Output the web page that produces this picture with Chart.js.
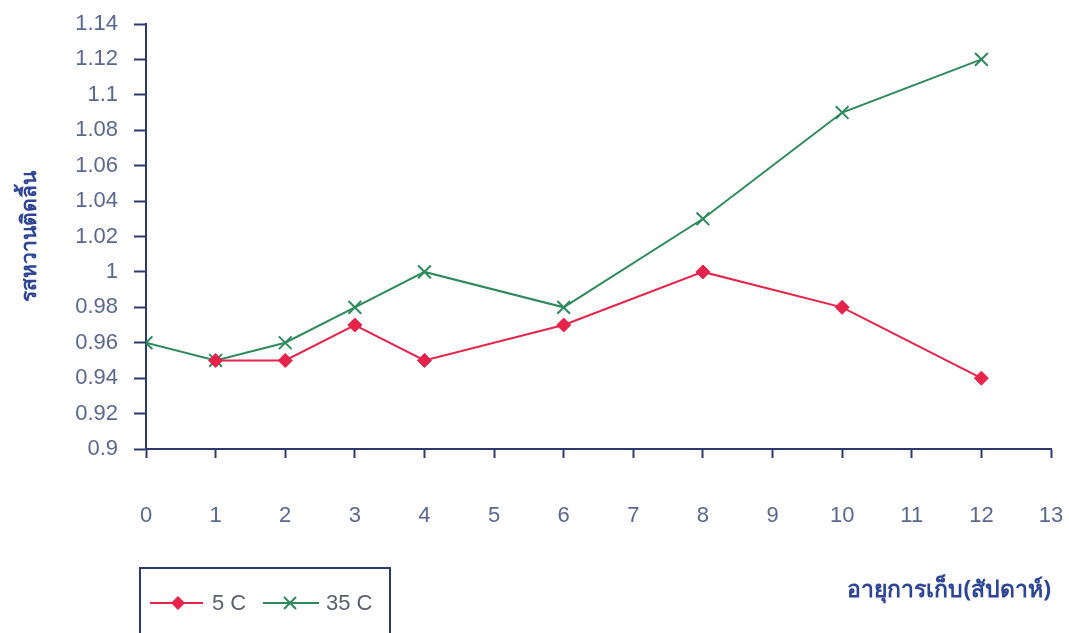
<!DOCTYPE html>
<html>
<head>
<meta charset="utf-8">
<script src="https://cdn.jsdelivr.net/npm/chart.js@4"></script>
<style>
  html, body { margin: 0; padding: 0; background: #ffffff; overflow: hidden; }
  #wrap { width: 1069px; height: 633px; position: relative; }
</style>
</head>
<body>
<div id="wrap"><canvas id="chart"></canvas></div>
<script>
// weeks of storage
const weeks5 = [1, 2, 3, 4, 6, 8, 10, 12];
const values5 = [0.95, 0.95, 0.97, 0.95, 0.97, 1.00, 0.98, 0.94];
const weeks35 = [0, 1, 2, 3, 4, 6, 8, 10, 12];
const values35 = [0.96, 0.95, 0.96, 0.98, 1.00, 0.98, 1.03, 1.09, 1.12];
const seriesNames = ["5 C", "35 C"];
const yTitle = "รสหวานติดลิ้น";
const xTitle = "อายุการเก็บ(สัปดาห์)";

const red = "#e5234b";
const green = "#2e8a5c";
const axisColor = "#2e3a6e";
const tickText = "#5a6890";
const numFont = "'Liberation Sans', Arial, sans-serif";

const toPoints = (xs, ys) => xs.map((x, i) => ({ x: x, y: ys[i] }));

// legend box drawn at bottom-left like the original
const boxLegend = {
    id: "boxLegend",
    afterDraw(chart) {
        const c = chart.ctx;
        c.save();
        c.strokeStyle = axisColor;
        c.lineWidth = 2;
        c.strokeRect(140, 568, 250, 80);
        const y = 603;
        // 5 C
        c.strokeStyle = red;
        c.lineWidth = 2;
        c.beginPath(); c.moveTo(150, y); c.lineTo(203, y); c.stroke();
        c.fillStyle = red;
        c.beginPath();
        c.moveTo(178, y - 7); c.lineTo(185, y); c.lineTo(178, y + 7); c.lineTo(171, y);
        c.closePath(); c.fill();
        // 35 C
        c.strokeStyle = green;
        c.beginPath(); c.moveTo(263, y); c.lineTo(319, y); c.stroke();
        c.beginPath();
        c.moveTo(284, y - 6); c.lineTo(296, y + 6);
        c.moveTo(296, y - 6); c.lineTo(284, y + 6);
        c.stroke();
        c.fillStyle = "#5a5f6e";
        c.font = "22px " + numFont;
        c.textBaseline = "middle";
        c.fillText(seriesNames[0], 212, y + 1);
        c.fillText(seriesNames[1], 326, y + 1);
        c.restore();
    }
};

new Chart(document.getElementById("chart"), {
    type: "line",
    data: {
        datasets: [{
            label: seriesNames[0],
            data: toPoints(weeks5, values5),
            borderColor: red,
            backgroundColor: red,
            borderWidth: 2,
            pointStyle: "rectRot",
            pointRadius: 7,
            pointBorderWidth: 1,
            tension: 0
        }, {
            label: seriesNames[1],
            data: toPoints(weeks35, values35),
            borderColor: green,
            backgroundColor: green,
            borderWidth: 2,
            pointStyle: "crossRot",
            pointRadius: 9,
            pointBorderWidth: 2,
            tension: 0
        }]
    },
    options: {
        responsive: true,
        maintainAspectRatio: false,
        animation: false,
        layout: { padding: { left: 0, right: 18, top: 24, bottom: 0 } },
        plugins: {
            legend: { display: false },
            tooltip: { enabled: false }
        },
        scales: {
            x: {
                type: "linear",
                min: 0,
                max: 13,
                ticks: {
                    stepSize: 1,
                    padding: 45,
                    color: tickText,
                    font: { family: numFont, size: 22 }
                },
                grid: {
                    drawOnChartArea: false,
                    drawTicks: true,
                    tickLength: 9,
                    tickColor: axisColor,
                    tickWidth: 2
                },
                border: { color: axisColor, width: 2 },
                title: {
                    display: true,
                    text: xTitle,
                    align: "end",
                    color: "#2d4594",
                    font: { family: "'Noto Sans', 'DejaVu Sans', sans-serif", size: 23, weight: "bold" },
                    padding: { top: 0, bottom: 29 }
                },
                afterFit(axis) {
                    axis.height = 184;
                    axis.paddingLeft = 0;
                    axis.paddingRight = 0;
                }
            },
            y: {
                min: 0.9,
                max: 1.14,
                ticks: {
                    stepSize: 0.02,
                    padding: 16,
                    color: tickText,
                    font: { family: numFont, size: 22 },
                    callback: v => String(parseFloat(v.toFixed(2)))
                },
                grid: {
                    drawOnChartArea: false,
                    drawTicks: true,
                    tickLength: 12,
                    tickColor: axisColor,
                    tickWidth: 2
                },
                border: { color: axisColor, width: 2 },
                title: {
                    display: true,
                    text: yTitle,
                    color: "#2d4594",
                    font: { family: "'Noto Sans', 'DejaVu Sans', sans-serif", size: 21, weight: "bold" },
                    padding: { top: 17, bottom: 0 }
                },
                afterFit(axis) {
                    axis.width = 146;
                    axis.paddingTop = 0;
                    axis.paddingBottom = 0;
                }
            }
        }
    },
    plugins: [boxLegend]
});
</script>
</body>
</html>
